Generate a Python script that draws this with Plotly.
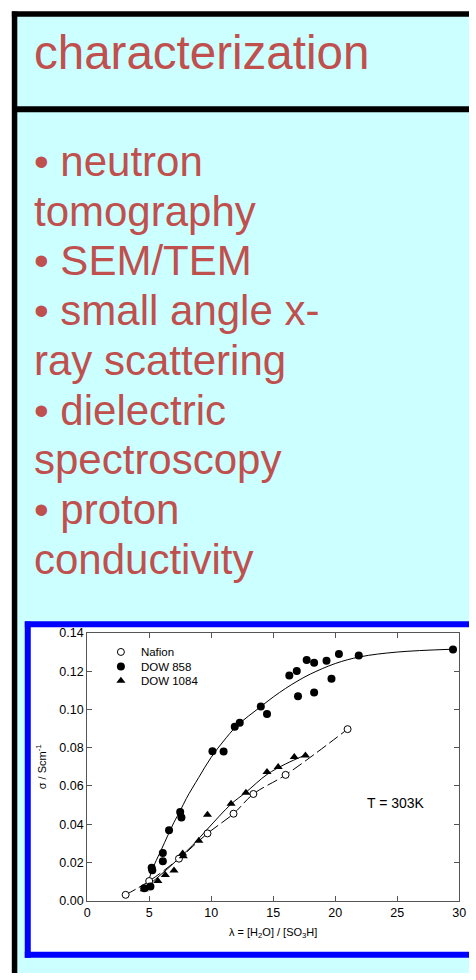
import plotly.graph_objects as go

# ---------------- data ----------------
nafion_x = [3.1, 5.0, 7.4, 9.7, 11.8, 13.4, 16.0, 21.0]
nafion_y = [0.0031, 0.0103, 0.0220, 0.0352, 0.0455, 0.0558, 0.0658, 0.0897]

dow858_x = [4.6, 5.1, 5.2, 5.25, 6.1, 6.1, 6.6, 7.5, 7.6, 10.1, 11.0, 11.9, 12.3,
            14.0, 14.5, 16.3, 16.9, 17.0, 17.7, 18.3, 18.3, 19.3, 19.7, 20.3, 21.9, 29.5]
dow858_y = [0.0065, 0.0074, 0.0172, 0.0160, 0.0249, 0.0206, 0.0368, 0.0464, 0.0435,
            0.0782, 0.0780, 0.0909, 0.0931, 0.1015, 0.0976, 0.1177, 0.1201, 0.1069,
            0.1259, 0.1244, 0.1089, 0.1254, 0.1160, 0.1290, 0.1282, 0.1314]

dow1084_x = [4.6, 5.7, 6.3, 7.0, 7.7, 7.75, 9.0, 9.7, 11.6, 12.8, 14.5, 15.4, 16.7, 17.6]
dow1084_y = [0.0060, 0.0103, 0.0134, 0.0158, 0.0247, 0.0232, 0.0313, 0.0450, 0.0507,
             0.0565, 0.0673, 0.0699, 0.0752, 0.0759]

fit858_x = [4.8, 5.2, 6.0, 7.0, 7.5, 8.0, 9.0, 10.0, 11.0, 12.0, 13.0, 14.0, 15.0,
            16.0, 17.0, 18.0, 20.0, 22.0, 25.0, 29.5]
fit858_y = [0.0065, 0.0155, 0.0270, 0.0410, 0.0470, 0.0535, 0.0645, 0.0750, 0.0835,
            0.0910, 0.0965, 0.1015, 0.1065, 0.1110, 0.1150, 0.1185, 0.1240, 0.1275,
            0.1300, 0.1315]

fit1084_x = [4.5, 5.5, 6.5, 7.5, 8.5, 9.7, 11.6, 12.8, 14.5, 16.0, 17.6]
fit1084_y = [0.0058, 0.0112, 0.0168, 0.0228, 0.0290, 0.0375, 0.0505, 0.0567, 0.0660,
             0.0715, 0.0762]

x_ticks = [0, 5, 10, 15, 20, 25, 30]
y_ticks = [0.00, 0.02, 0.04, 0.06, 0.08, 0.10, 0.12, 0.14]

title_text = "characterization"
slide_lines = ["• neutron", "tomography", "• SEM/TEM", "• small angle x-",
               "ray scattering", "• dielectric", "spectroscopy", "• proton",
               "conductivity"]

# ---------------- layout helpers ----------------
W, H = 476, 980
RED = "#C0504D"
CYAN = "#CCFFFF"
FONT = "Liberation Sans, Arial, Helvetica, sans-serif"
AXC = "#555555"


def px(x):
    """page pixel x -> paper fraction"""
    return x / W


def py(y):
    """page pixel y -> paper fraction"""
    return 1 - y / H


fig = go.Figure()

# fitted curves
fig.add_trace(go.Scatter(x=fit858_x, y=fit858_y, mode="lines", showlegend=False,
                         line=dict(color="black", width=1, shape="spline"),
                         hoverinfo="skip"))
fig.add_trace(go.Scatter(x=fit1084_x, y=fit1084_y, mode="lines", showlegend=False,
                         line=dict(color="black", width=1, shape="spline"),
                         hoverinfo="skip"))
fig.add_trace(go.Scatter(x=nafion_x, y=nafion_y, mode="lines", showlegend=False,
                         line=dict(color="black", width=1, shape="spline",
                                   dash="11px,4px"),
                         hoverinfo="skip"))

# data points (one legend per entry so the rows can sit close together)
fig.add_trace(go.Scatter(x=nafion_x, y=nafion_y, mode="markers", name="Nafion",
                         legend="legend",
                         marker=dict(symbol="circle", size=7, color="white",
                                     line=dict(color="black", width=1))))
fig.add_trace(go.Scatter(x=dow858_x, y=dow858_y, mode="markers", name="DOW 858",
                         legend="legend2",
                         marker=dict(symbol="circle", size=8, color="black",
                                     line=dict(width=0))))
fig.add_trace(go.Scatter(x=dow1084_x, y=dow1084_y, mode="markers", name="DOW 1084",
                         legend="legend3",
                         marker=dict(symbol="triangle-up", size=8, color="black",
                                     line=dict(width=0))))


def hline(x0, x1, y, color, width):
    return dict(type="line", xref="paper", yref="paper", x0=px(x0), x1=px(x1),
                y0=py(y), y1=py(y), line=dict(color=color, width=width),
                layer="below")


def vline(x, y0, y1, color, width):
    return dict(type="line", xref="paper", yref="paper", x0=px(x), x1=px(x),
                y0=py(y0), y1=py(y1), line=dict(color=color, width=width),
                layer="below")


shapes = [
    # slide body fill
    dict(type="rect", xref="paper", yref="paper", x0=px(11.8), x1=px(W),
         y0=py(H), y1=py(7.2), fillcolor=CYAN, line=dict(width=0),
         layer="below"),
    hline(9.05, W, 7.2, "black", 5.5),       # top border
    vline(11.8, 4.45, H, "black", 5.5),      # left border
    hline(11.8, W, 103.7, "black", 6),       # separator under the title
    # chart inset
    dict(type="rect", xref="paper", yref="paper", x0=px(25.3), x1=px(W),
         y0=py(961.5), y1=py(626.3), fillcolor="white", line=dict(width=0),
         layer="below"),
    hline(22.3, W, 626.3, "#0000FF", 6),
    hline(22.3, W, 961.5, "#0000FF", 6),
    vline(25.3, 623.3, 964.5, "#0000FF", 6),
]

annotations = [
    dict(text=title_text, xref="paper", yref="paper", x=px(30), y=py(46.5),
         xanchor="left", yanchor="middle", showarrow=False,
         font=dict(family=FONT, size=47.5, color=RED)),
    dict(text="T = 303K", x=24.9, y=0.0512, xref="x", yref="y",
         showarrow=False, font=dict(family=FONT, size=14, color="black")),
]
line_gap = 50.5
for i, t in enumerate(slide_lines):
    base = 171 + i * line_gap
    annotations.append(dict(text=t, xref="paper", yref="paper", x=px(30),
                            y=py(base - 14.5), xanchor="left", yanchor="middle",
                            showarrow=False,
                            font=dict(family=FONT, size=42, color=RED)))


def leg(ycenter):
    return dict(x=px(100), y=py(ycenter), xanchor="left", yanchor="middle",
                bgcolor="rgba(0,0,0,0)", font=dict(size=11.5, family=FONT),
                itemsizing="trace")


fig.update_layout(
    width=W, height=H,
    autosize=False,
    margin=dict(l=0, r=0, t=0, b=0),
    paper_bgcolor="white",
    plot_bgcolor="rgba(0,0,0,0)",
    font=dict(family=FONT, color="black"),
    shapes=shapes,
    annotations=annotations,
    showlegend=True,
    legend=leg(654.3),
    legend2=leg(669.0),
    legend3=leg(683.5),
    xaxis=dict(domain=[px(86), px(466)], range=[0, 30], tickvals=x_ticks,
               ticktext=[str(v) for v in x_ticks], ticklabeloverflow="allow",
               showgrid=False, zeroline=False, showline=True, linecolor=AXC,
               linewidth=1, mirror="ticks", ticks="inside", ticklen=5,
               tickcolor=AXC, tickfont=dict(size=12.5, family=FONT),
               title=dict(text="λ = [H<sub>2</sub>O] / [SO<sub>3</sub>H]",
                          font=dict(size=11, family=FONT), standoff=9)),
    yaxis=dict(domain=[py(906.7), py(635)], range=[0, 0.14], tickvals=y_ticks,
               tickformat=".2f", ticklabeloverflow="allow",
               showgrid=False, zeroline=False, showline=True, linecolor=AXC,
               linewidth=1, mirror="ticks", ticks="inside", ticklen=5,
               tickcolor=AXC, tickfont=dict(size=12.5, family=FONT),
               title=dict(text="σ / Scm<sup>-1</sup>",
                          font=dict(size=11, family=FONT), standoff=10)),
)

# a tiny synchronous script that removes the default 8px page margin before the
# figure is laid out, so the 476x980 figure fills the window exactly
MARGIN_FIX = "data:text/javascript,document.body.style.margin='0px';//.js"

fig.write_html("out.html", config={"displayModeBar": False},
               include_mathjax=MARGIN_FIX)
